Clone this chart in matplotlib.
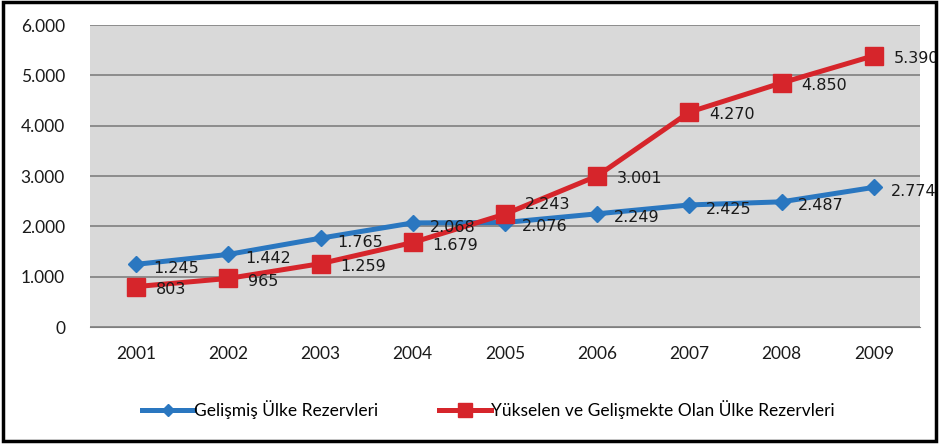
import matplotlib.pyplot as plt
from matplotlib.ticker import FuncFormatter, MultipleLocator

years = ['2001', '2002', '2003', '2004', '2005', '2006', '2007', '2008', '2009']
gelismis = [1245, 1442, 1765, 2068, 2076, 2249, 2425, 2487, 2774]
yukselen = [803, 965, 1259, 1679, 2243, 3001, 4270, 4850, 5390]
labels = ['Gelişmiş Ülke Rezervleri', 'Yükselen ve Gelişmekte Olan Ülke Rezervleri']

blue = '#2a77c0'
red = '#d6252b'
narrow = ['Liberation Sans Narrow', 'Lato']


def fmt(v):
    return f'{int(v):,}'.replace(',', '.')


fig = plt.figure(figsize=(9.39, 4.44), dpi=100)
ax = fig.add_axes([90 / 939, 1 - 327 / 444, 830 / 939, 302 / 444])
ax.set_facecolor('#d9d9d9')

x = range(len(years))
ax.plot(x, gelismis, color=blue, lw=3.6, marker='D', ms=8, label=labels[0], zorder=3)
ax.plot(x, yukselen, color=red, lw=3.6, marker='s', ms=12.5, label=labels[1], zorder=4)

for i, v in enumerate(gelismis):
    ax.annotate(fmt(v), (i, v), xytext=(12, -3), textcoords='offset points',
                va='center', ha='left', fontsize=11.5, color='#1a1a1a', zorder=5)
for i, v in enumerate(yukselen):
    dy = 7 if i == 4 else -2
    ax.annotate(fmt(v), (i, v), xytext=(14, dy), textcoords='offset points',
                va='center', ha='left', fontsize=11.5, color='#1a1a1a', zorder=5)

ax.set_xlim(-0.5, len(years) - 0.5)
ax.set_ylim(0, 6000)
ax.yaxis.set_major_locator(MultipleLocator(1000))
ax.yaxis.set_major_formatter(FuncFormatter(lambda v, p: fmt(v)))
ax.set_xticks(list(x))
ax.set_xticklabels(years)
ax.grid(axis='y', color='#7f7f7f', lw=1.2)
ax.set_axisbelow(True)
for s in ['top', 'right', 'left']:
    ax.spines[s].set_visible(False)
ax.spines['bottom'].set_color('#7f7f7f')
ax.tick_params(axis='y', length=0, labelsize=12.5, pad=18)
ax.tick_params(axis='x', length=0, labelsize=12.5, pad=14)
for t in ax.get_xticklabels() + ax.get_yticklabels():
    t.set_family(narrow)
    t.set_color('#1a1a1a')
for t in ax.get_yticklabels():
    t.set_family('Lato')

leg = fig.legend(loc='center', bbox_to_anchor=(0.52, 1 - 410 / 444), ncol=2, frameon=False,
                 prop={'family': narrow, 'size': 12.5}, handlelength=3, columnspacing=3.5,
                 handletextpad=0.0, markerscale=0.8)

fig.patches.append(plt.Rectangle((0.003, 0.006), 0.994, 0.99, transform=fig.transFigure,
                                 fill=False, ec='black', lw=2.5))

fig.savefig('out.png', dpi=100)
